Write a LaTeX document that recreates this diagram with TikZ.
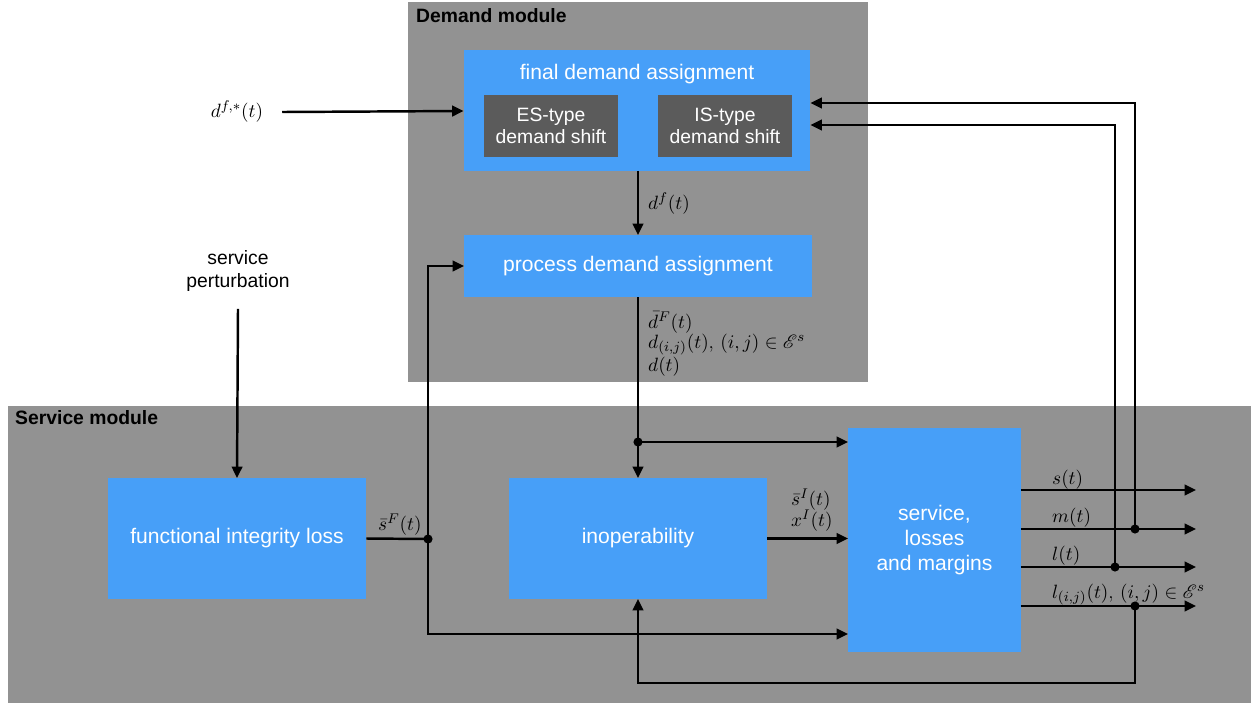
\documentclass[tikz,border=0pt]{standalone}
\usepackage{fontspec}
\setsansfont{Liberation Sans}
\usepackage{amsmath}
\usepackage{mathrsfs}
\usetikzlibrary{calc,arrows.meta}
\definecolor{boxblue}{RGB}{71,159,248}
\definecolor{modgray}{RGB}{146,146,146}
\definecolor{subgray}{RGB}{91,91,91}
\newcommand{\simpul}[1]{\foreach \p in {#1} \fill (\p) circle (2.6pt);}

\begin{document}
\begin{tikzpicture}[x=0.02cm,y=-0.02cm,line width=1.4pt,
  bluebox/.style={fill=boxblue,text=white,inner sep=0pt,outer sep=0pt,align=center,
    font=\sffamily\fontsize{12}{14}\selectfont},
  greybox/.style={fill=subgray,text=white,inner sep=0pt,outer sep=0pt,align=center,
    minimum width=2.68cm,minimum height=1.24cm,font=\sffamily\fontsize{11}{12.5}\selectfont},
  modlbl/.style={anchor=base west,inner sep=0pt,font=\sffamily\bfseries\fontsize{11}{13}\selectfont},
  lbl/.style={anchor=base west,inner sep=0pt,font=\fontsize{11}{13}\selectfont},
  arr/.style={-{Triangle[length=6.5pt,width=6pt]}}]
  \useasboundingbox (0,0) rectangle (1257,707);

  % modules
  \fill[modgray] (408,2) rectangle (868,382);
  \fill[modgray] (8,406) rectangle (1251,703);
  \node[modlbl] (demlbl) at (415,22) {Demand module};
  \node[modlbl] (serlbl) at (14,424) {Service module};

  % blocks
  \node[bluebox,minimum width=6.94cm,minimum height=2.42cm] (final) at (637,110.5) {};
  \node[bluebox] (finaltxt) at (637,74) {final demand assignment};
  \node[greybox] (es) at (551,126) {ES-type\\demand shift};
  \node[greybox] (is) at (725,126) {IS-type\\demand shift};
  \node[bluebox,minimum width=6.96cm,minimum height=1.24cm] (proc) at (638,266) {process demand assignment};
  \node[bluebox,minimum width=5.18cm,minimum height=2.42cm] (fil) at (237,538.5) {functional integrity loss};
  \node[bluebox,minimum width=5.18cm,minimum height=2.42cm] (inop) at (638,538.5) {inoperability};
  \node[bluebox,minimum width=3.46cm,minimum height=4.48cm] (serv) at (934.5,540) {service,\\losses\\and margins};

  \coordinate (jd)   at (638,442);
  \coordinate (js)   at (428,539);
  \coordinate (jsb)  at (428,634);
  \coordinate (jm)   at (1135,529);
  \coordinate (jl)   at (1115,567);
  \coordinate (jlij) at (1135,606);
  \coordinate (jlb)  at (1135,683);
  \coordinate (os)   at (1196,490);
  \coordinate (om)   at (1196,529);
  \coordinate (ol)   at (1196,567);
  \coordinate (olij) at (1196,606);

  % inputs
  \node[font=\fontsize{11}{13}\selectfont] (dfs) at (237,112) {$d^{f,*}(t)$};
  \draw[arr] (dfs.east) ++(12,0) -- ($(final.west)+(0,0.5)$);
  \node[align=center,font=\sffamily\fontsize{11}{13.5}\selectfont] (pert) at (238,271) {service\\perturbation};
  \draw[arr] (pert.south) ++(0,10) -- (fil.north);

  % demand module
  \draw[arr] (final.south -| proc.north) -- (proc.north);
  \node[lbl] (dflbl) at (647,209) {$d^f(t)$};
  \draw (proc.south) -- (jd);
  \draw[arr] (jd) -- (inop.north);
  \draw[arr] (jd) -- (jd -| serv.west);
  \node[lbl] (dbarlbl) at (647,328) {$\bar{d}^F(t)$};
  \node[lbl] (dijlbl)  at (647,348) {$d_{(i,j)}(t)$, $(i,j)\in\mathscr{E}^s$};
  \node[lbl] (dlbl)    at (647,371) {$d(t)$};

  % service module
  \draw (fil.east) -- (js);
  \node[lbl] (sflbl) at (377,530) {$\bar{s}^F(t)$};
  \draw[arr] (js) |- (proc.west);
  \draw[arr] (js) -- (jsb) -- (jsb -| serv.west);
  \draw[arr] (inop.east) -- (inop.east -| serv.west);
  \node[lbl] (silbl) at (790,505) {$\bar{s}^I(t)$};
  \node[lbl] (xilbl) at (790,526) {$x^I(t)$};

  % outputs
  \draw[arr] (serv.east |- os) -- (os);
  \draw[arr] (serv.east |- om) -- (om);
  \draw[arr] (serv.east |- ol) -- (ol);
  \draw[arr] (serv.east |- olij) -- (olij);
  \node[lbl] (slbl)   at (1051,484) {$s(t)$};
  \node[lbl] (mlbl)   at (1051,522) {$m(t)$};
  \node[lbl] (llbl)   at (1051,560) {$l(t)$};
  \node[lbl] (lijlbl) at (1051,598) {$l_{(i,j)}(t)$, $(i,j)\in\mathscr{E}^s$};

  % feedback
  \draw[arr] (jm) |- ($(final.east)+(0,-7.5)$);
  \draw[arr] (jl) |- ($(final.east)+(0,14.5)$);
  \draw[arr] (jlij) -- (jlb) -| (inop.south);

  \simpul{jd,js,jm,jl,jlij}
\end{tikzpicture}
\end{document}
